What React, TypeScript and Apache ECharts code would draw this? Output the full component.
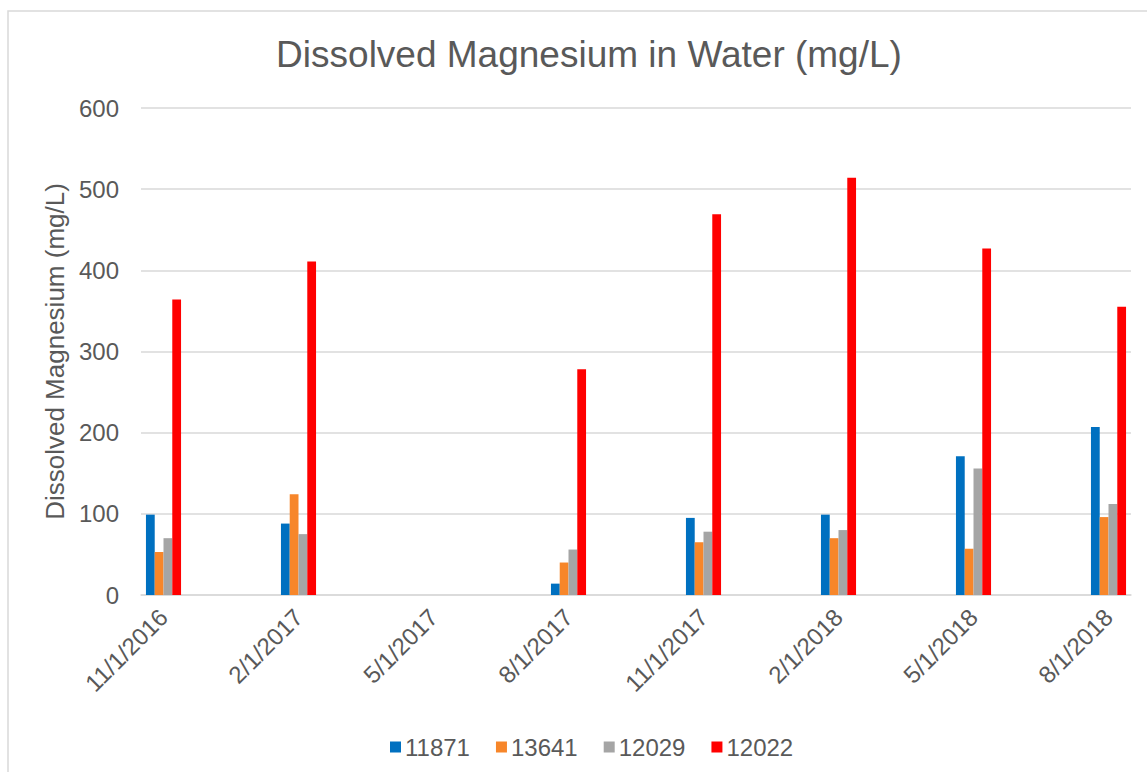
import React, { useEffect, useRef } from "react";
import * as echarts from "echarts";

const months = [
  "11/1/2016", "12/1/2016", "1/1/2017", "2/1/2017", "3/1/2017", "4/1/2017",
  "5/1/2017", "6/1/2017", "7/1/2017", "8/1/2017", "9/1/2017", "10/1/2017",
  "11/1/2017", "12/1/2017", "1/1/2018", "2/1/2018", "3/1/2018", "4/1/2018",
  "5/1/2018", "6/1/2018", "7/1/2018", "8/1/2018",
];
const sampleDates = ["11/1/2016", "2/1/2017", "5/1/2017", "8/1/2017", "11/1/2017", "2/1/2018", "5/1/2018", "8/1/2018"];
const s11871 = [99, 88, null, 14, 95, 99, 171, 207];
const s13641 = [53, 124, null, 40, 65, 70, 57, 96];
const s12029 = [70, 75, null, 56, 78, 80, 156, 112];
const s12022 = [364, 411, null, 278, 469, 514, 427, 355];
const seriesNames = ["11871", "13641", "12029", "12022"];
const colors = ["#0070C0", "#F7862A", "#A5A5A5", "#FF0000"];
const yTicks = [0, 100, 200, 300, 400, 500, 600];

const toMonthly = (vals: (number | null)[]) =>
  months.map((m) => {
    const i = sampleDates.indexOf(m);
    return i >= 0 ? vals[i] : null;
  });

const FONT = "'Liberation Sans', Arial, sans-serif";
const TXT = "#595959";

export default function App() {
  const ref = useRef<HTMLDivElement>(null);
  useEffect(() => {
    if (!ref.current) return;
    const chart = echarts.init(ref.current, null, { renderer: "svg" });
    const all = [s11871, s13641, s12029, s12022];
    chart.setOption({
      animation: false,
      backgroundColor: "#ffffff",
      textStyle: { fontFamily: FONT },
      title: {
        text: "Dissolved Magnesium in Water (mg/L)",
        left: 584,
        top: 31,
        textAlign: "center",
        textStyle: { fontFamily: FONT, fontSize: 37, fontWeight: "normal", color: TXT },
      },
      graphic: [
        {
          type: "rect",
          shape: { x: 8, y: 11, width: 1160, height: 800 },
          style: { fill: "none", stroke: "#d9d9d9", lineWidth: 1.5 },
          silent: true,
        },
      ],
      legend: {
        data: seriesNames,
        left: 385,
        top: 730,
        itemWidth: 11,
        itemHeight: 11,
        itemGap: 26,
        icon: "rect",
        textStyle: { fontFamily: FONT, fontSize: 24, color: TXT, padding: [0, 0, 0, -1] },
      },
      grid: { left: 141, right: 16, top: 108, bottom: 177, containLabel: false },
      xAxis: {
        type: "category",
        data: months,
        boundaryGap: true,
        axisLine: { lineStyle: { color: "#d9d9d9", width: 1.5 } },
        axisTick: { show: false },
        axisLabel: {
          interval: 2,
          rotate: 45,
          margin: 18,
          fontFamily: FONT,
          fontSize: 24,
          color: TXT,
        },
      },
      yAxis: {
        type: "value",
        min: 0,
        max: 600,
        interval: 100,
        name: "Dissolved Magnesium (mg/L)",
        nameLocation: "middle",
        nameGap: 70,
        nameTextStyle: { fontFamily: FONT, fontSize: 26, color: TXT },
        axisLine: { show: false },
        axisTick: { show: false },
        axisLabel: {
          fontFamily: FONT,
          fontSize: 24,
          color: TXT,
          margin: 22,
          formatter: (v: number) => (yTicks.includes(v) ? String(v) : ""),
        },
        splitLine: { lineStyle: { color: "#d9d9d9", width: 1.5 } },
      },
      series: seriesNames.map((n, i) => ({
        name: n,
        type: "bar",
        data: toMonthly(all[i]),
        barGap: "0%",
        barCategoryGap: "22%",
        itemStyle: { color: colors[i] },
      })),
    });
    return () => chart.dispose();
  }, []);
  return (
    <div
      ref={ref}
      style={{ position: "fixed", left: 0, top: 0, width: 1147, height: 772 }}
    />
  );
}
